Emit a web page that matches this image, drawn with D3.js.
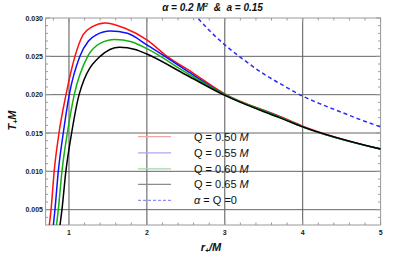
<!DOCTYPE html>
<html><head><meta charset="utf-8">
<script src="https://cdn.jsdelivr.net/npm/d3@7"></script>
<style>body{margin:0;background:#fff}svg{display:block}</style>
</head><body>
<svg id="c" width="415" height="260"></svg>
<script>
// ---- data ----
const seriesNames = ["Q = 0.50 M", "Q = 0.55 M", "Q = 0.60 M", "Q = 0.65 M"];
const rQ050 = [0.748,0.77,0.81,0.872,0.962,1.077,1.18,1.30,1.46,1.72,2.0,2.26,2.594,3.0,3.7,4.0,5.0];
const tQ050 = [0.003,0.005,0.010,0.015,0.020,0.025,0.0278,0.02887,0.02935,0.02866,0.02714,0.0250,0.02282,0.0201,0.0172,0.0159,0.0129];
const rQ055 = [0.80,0.82,0.863,0.927,1.004,1.14,1.25,1.35,1.53,1.75,2.0,2.5,3.0,3.7,4.0,5.0];
const tQ055 = [0.003,0.005,0.010,0.015,0.020,0.025,0.0270,0.0278,0.0283,0.0280,0.0265,0.0232,0.0200,0.0171,0.0158,0.0129];
const rQ060 = [0.84,0.863,0.91,0.979,1.068,1.24,1.40,1.59,1.80,2.0,2.5,3.0,3.7,4.0,5.0];
const tQ060 = [0.003,0.005,0.010,0.015,0.020,0.025,0.0267,0.0272,0.0269,0.0260,0.0229,0.0200,0.0171,0.0158,0.0129];
const rQ065 = [0.885,0.91,0.96,1.034,1.13,1.40,1.65,1.85,2.0,2.5,3.0,3.7,4.0,5.0];
const tQ065 = [0.003,0.005,0.010,0.015,0.020,0.025,0.0262,0.0259,0.0253,0.0226,0.0199,0.0170,0.0158,0.0129];
const rZero = [2.6,2.8,3.0,3.25,3.5,3.75,4.0,4.25,4.5,4.75,5.0];
const tZero = [0.0306,0.0284,0.0265,0.0245,0.0227,0.0212,0.0198,0.0187,0.0177,0.0167,0.0158];
const xTicks = [1,2,3,4,5];
const yTicks = [0.005,0.010,0.015,0.020,0.025,0.030];
const xGrid = [1,2,3,4];
const yGrid = [0.005,0.010,0.015,0.020,0.025];

// ---- layout ----
const svg = d3.select("#c");
const L = 45.6, R = 380.6, T = 18, B = 225;
const x = d3.scaleLinear().domain([0.7,5]).range([L,R]);
const y = d3.scaleLinear().domain([0.003,0.030]).range([B,T]);

svg.append("defs").append("clipPath").attr("id","clip")
  .append("rect").attr("x",L).attr("y",T).attr("width",R-L).attr("height",B-T);

// grid
const g = svg.append("g");
g.selectAll(".vg").data(xGrid).join("line")
  .attr("x1",d=>x(d)).attr("x2",d=>x(d)).attr("y1",T).attr("y2",B)
  .attr("stroke","#555").attr("stroke-width",1);
g.selectAll(".hg").data(yGrid).join("line")
  .attr("y1",d=>y(d)).attr("y2",d=>y(d)).attr("x1",L).attr("x2",R)
  .attr("stroke","#666").attr("stroke-width",1);

// frame & ticks
const frameCol = "#999";
const minorX = d3.range(0.8,5.0001,0.2).filter(v=>Math.abs(v-Math.round(v))>1e-6);
const minorY = d3.range(0.004,0.0300001,0.001).filter(v=>Math.abs(v*200-Math.round(v*200))>1e-6);
function ticks(vals, len, isX){
  vals.forEach(v=>{
    if(isX){
      const px = x(v);
      g.append("line").attr("x1",px).attr("x2",px).attr("y1",B).attr("y2",B-len).attr("stroke",frameCol);
      g.append("line").attr("x1",px).attr("x2",px).attr("y1",T).attr("y2",T+len).attr("stroke",frameCol);
    } else {
      const py = y(v);
      g.append("line").attr("y1",py).attr("y2",py).attr("x1",L).attr("x2",L+len).attr("stroke",frameCol);
      g.append("line").attr("y1",py).attr("y2",py).attr("x1",R).attr("x2",R-len).attr("stroke",frameCol);
    }
  });
}
ticks(xTicks,4.5,true); ticks(minorX,2.5,true);
ticks(yTicks,4.5,false); ticks(minorY,2.5,false);
g.append("rect").attr("x",L).attr("y",T).attr("width",R-L).attr("height",B-T)
  .attr("fill","none").attr("stroke",frameCol).attr("stroke-width",1);

// tick labels
const lab = {"font-family":"Liberation Sans, Arial, sans-serif","font-weight":"bold","font-size":"7px","fill":"#222"};
xTicks.forEach(v=>{
  const t = svg.append("text").attr("x",x(v)).attr("y",234.5).attr("text-anchor","middle").text(d3.format("d")(v));
  Object.entries(lab).forEach(([k,val])=>t.attr(k,val));
});
yTicks.forEach(v=>{
  const t = svg.append("text").attr("x",43).attr("y",y(v)+2.5).attr("text-anchor","end").text(d3.format(".3f")(v));
  Object.entries(lab).forEach(([k,val])=>t.attr(k,val));
});

// curves
const line = d3.line().x(d=>x(d[0])).y(d=>y(d[1])).curve(d3.curveMonotoneX);
const series = [
  {r:rQ050,t:tQ050,c:"#ff1010"},
  {r:rQ055,t:tQ055,c:"#1010ff"},
  {r:rQ060,t:tQ060,c:"#10b010"},
  {r:rQ065,t:tQ065,c:"#000000"}
];
const cg = svg.append("g").attr("clip-path","url(#clip)");
series.forEach(s=>{
  cg.append("path").attr("d",line(d3.zip(s.r,s.t))).attr("fill","none")
    .attr("stroke",s.c).attr("stroke-width",1.5);
});
cg.append("path").attr("d",line(d3.zip(rZero,tZero))).attr("fill","none")
  .attr("stroke","#2a2aff").attr("stroke-width",1.5).attr("stroke-dasharray","4,3");

// legend
const legCols = ["#f5a3a3","#a8a8f2","#a6d9a6","#8c8c8c"];
const legY = [136.7,152.8,168.9,184.4,200.3];
seriesNames.forEach((n,i)=>{
  svg.append("line").attr("x1",138).attr("x2",171).attr("y1",legY[i]).attr("y2",legY[i])
    .attr("stroke",legCols[i]).attr("stroke-width",1.2);
  const parts = n.split(" M");
  const t = svg.append("text").attr("x",194).attr("y",legY[i]+4)
    .attr("font-family","Liberation Sans, Arial, sans-serif").attr("font-size","11px").attr("fill","#111");
  t.append("tspan").text(parts[0]+" ");
  t.append("tspan").attr("font-style","italic").text("M");
});
svg.append("line").attr("x1",138).attr("x2",171).attr("y1",legY[4]).attr("y2",legY[4])
  .attr("stroke","#8f8ff5").attr("stroke-width",1.2).attr("stroke-dasharray","3,2");
{
  const t = svg.append("text").attr("x",194).attr("y",legY[4]+4)
    .attr("font-family","Liberation Sans, Arial, sans-serif").attr("font-size","11px").attr("fill","#111");
  t.append("tspan").attr("font-style","italic").text("α");
  t.append("tspan").text(" = Q =0");
}

// title
{
  const t = svg.append("text").attr("x",212.5).attr("y",10.8).attr("text-anchor","middle")
    .attr("font-family","Liberation Sans, Arial, sans-serif").attr("font-size","10px")
    .attr("font-weight","bold").attr("font-style","italic").attr("fill","#111")
    .attr("xml:space","preserve");
  t.append("tspan").text("α = 0.2 M");
  t.append("tspan").attr("font-size","6px").attr("dy",-4).text("2");
  t.append("tspan").attr("dy",4).text("  &  a = 0.15");
}
// axis labels
{
  const t = svg.append("text").attr("x",211).attr("y",251.3).attr("text-anchor","middle")
    .attr("font-family","Liberation Sans, Arial, sans-serif").attr("font-size","11px")
    .attr("font-weight","bold").attr("font-style","italic").attr("fill","#111");
  t.append("tspan").text("r");
  t.append("tspan").attr("font-size","7px").attr("dy",2).text("+");
  t.append("tspan").attr("dy",-2).text("/M");
}
{
  const t = svg.append("text").attr("transform","translate(15.5,120.5) rotate(-90)").attr("text-anchor","middle")
    .attr("font-family","Liberation Sans, Arial, sans-serif").attr("font-size","11px")
    .attr("font-weight","bold").attr("font-style","italic").attr("fill","#111");
  t.append("tspan").text("T");
  t.append("tspan").attr("font-size","7px").attr("dy",2).text("+");
  t.append("tspan").attr("dy",-2).text("M");
}
</script>
</body></html>
